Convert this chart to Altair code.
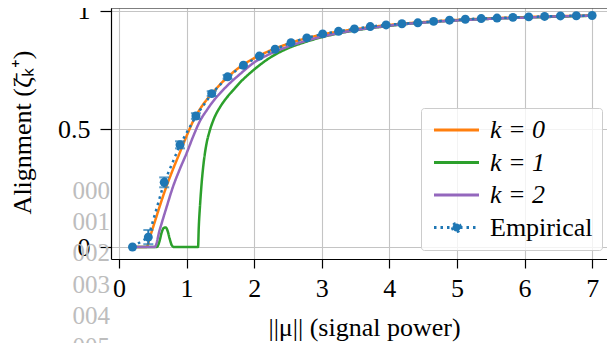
import altair as alt
import pandas as pd

# ---------------- data ----------------
emp_x = [0.2, 0.434, 0.669, 0.903, 1.138, 1.372, 1.607, 1.841, 2.076, 2.31,
         2.545, 2.779, 3.014, 3.248, 3.483, 3.717, 3.952, 4.186, 4.421, 4.655,
         4.89, 5.124, 5.359, 5.593, 5.828, 6.062, 6.297, 6.531, 6.766, 7.0]
emp_y = [0.0, 0.042, 0.274, 0.433, 0.555, 0.650, 0.721, 0.770, 0.809, 0.838,
         0.866, 0.886, 0.903, 0.914, 0.924, 0.934, 0.941, 0.946, 0.950, 0.956,
         0.961, 0.965, 0.968, 0.970, 0.973, 0.975, 0.977, 0.979, 0.980, 0.981]
emp_err = [0.0, 0.03, 0.021, 0.015, 0.012, 0.01, 0.008, 0.0, 0.0, 0.0,
           0.0, 0.0, 0.0, 0.0, 0.0, 0.0, 0.0, 0.0, 0.0, 0.0,
           0.0, 0.0, 0.0, 0.0, 0.0, 0.0, 0.0, 0.0, 0.0, 0.0]

k0_x = [0.2, 0.41, 0.45, 0.5, 0.55, 0.6, 0.7, 0.8, 0.9, 1.0, 1.1, 1.2, 1.3,
        1.4, 1.5, 1.6, 1.8, 2.0, 2.25, 2.5, 2.75, 3.0, 3.5, 4.0, 4.5, 5.0,
        5.5, 6.0, 6.5, 7.0]
k0_y = [0.0, 0.0, 0.035, 0.08, 0.125, 0.17, 0.255, 0.33, 0.4, 0.47, 0.535,
        0.585, 0.625, 0.658, 0.69, 0.718, 0.765, 0.8, 0.834, 0.861, 0.883,
        0.9, 0.923, 0.941, 0.953, 0.962, 0.969, 0.974, 0.978, 0.981]

k1_x = [0.2, 0.56, 0.6, 0.63, 0.66, 0.69, 0.72, 0.75, 0.78, 0.81, 1.17, 1.18,
        1.2, 1.22, 1.25, 1.29, 1.34, 1.4, 1.5, 1.6, 1.7, 1.8, 1.9, 2.0, 2.25,
        2.5, 2.75, 3.0, 3.5, 4.0, 4.5, 5.0, 5.5, 6.0, 6.5, 7.0]
k1_y = [0.0, 0.0, 0.025, 0.06, 0.08, 0.083, 0.068, 0.035, 0.008, 0.0, 0.0, 0.08,
        0.18, 0.26, 0.35, 0.43, 0.49, 0.54, 0.595, 0.635, 0.668, 0.7, 0.727,
        0.752, 0.805, 0.842, 0.868, 0.889, 0.918, 0.937, 0.951, 0.96, 0.967,
        0.972, 0.976, 0.98]

k2_x = [0.2, 0.53, 0.6, 0.7, 0.8, 0.9, 1.0, 1.1, 1.2, 1.3, 1.4, 1.5, 1.6, 1.8,
        2.0, 2.25, 2.5, 2.75, 3.0, 3.5, 4.0, 4.5, 5.0, 5.5, 6.0, 6.5, 7.0]
k2_y = [0.0, 0.0, 0.07, 0.165, 0.256, 0.33, 0.397, 0.47, 0.535, 0.58, 0.62,
        0.653, 0.683, 0.735, 0.782, 0.82, 0.849, 0.872, 0.891, 0.919, 0.938,
        0.951, 0.96, 0.967, 0.972, 0.977, 0.98]

series_names = ["k = 0", "k = 1", "k = 2", "Empirical"]
series_colors = ["#ff7f0e", "#2ca02c", "#9467bd", "#1f77b4"]
x_ticks = [0, 1, 2, 3, 4, 5, 6, 7]
y_ticks = [0, 0.5, 1]
line_numbers = ["000", "001", "002", "003", "004", "005"]

# ---------------- tables ----------------
theory = pd.concat([
    pd.DataFrame({"x": k0_x, "y": k0_y, "Series": series_names[0]}),
    pd.DataFrame({"x": k1_x, "y": k1_y, "Series": series_names[1]}),
    pd.DataFrame({"x": k2_x, "y": k2_y, "Series": series_names[2]}),
], ignore_index=True)
emp = pd.DataFrame({"x": emp_x, "y": emp_y, "err": emp_err, "Series": series_names[3]})
emp["lo"] = emp["y"] - emp["err"]
emp["hi"] = emp["y"] + emp["err"]
emp_bars = emp[emp["err"] > 0]

W, H = 496, 251
FONT = "Liberation Serif"
BLUE = series_colors[3]

xscale = alt.Scale(domain=[-0.118, 7.22], nice=False, zero=False)
yscale = alt.Scale(domain=[-0.0508, 1.0127], nice=False, zero=False)

# legend symbols: 45 px long strokes drawn from a small nominal symbol size
LINE_SYMBOL = "M-2.5,0L2.5,0"
EMP_SYMBOL = ("M-2.5,0L2.5,0M-0.45,0A0.45,0.45 0 1,0 0.45,0"
              "A0.45,0.45 0 1,0 -0.45,0Z")
legend = alt.Legend(
    title=None, orient="none", legendX=310, legendY=100,
    fillColor="rgba(255,255,255,0.8)", strokeColor="#cccccc", cornerRadius=3,
    padding=9, labelFont=FONT, labelFontSize=26, labelColor="black",
    labelFontStyle={"expr": "datum.value === 'Empirical' ? 'normal' : 'italic'"},
    symbolOffset=13.5, labelOffset=20.5, rowPadding=6.5,
    symbolSize=324, symbolStrokeWidth=3,
    symbolType={"expr": f"datum.value === 'Empirical' ? '{EMP_SYMBOL}' : '{LINE_SYMBOL}'"},
    symbolFillColor={"expr": "datum.value === 'Empirical' ? '#1f77b4' : 'transparent'"},
)
color = alt.Color("Series:N", scale=alt.Scale(domain=series_names, range=series_colors),
                  legend=legend)
dash = alt.StrokeDash("Series:N",
                      scale=alt.Scale(domain=series_names,
                                      range=[[1, 0], [1, 0], [1, 0], [2.5, 4]]),
                      legend=legend)

x_axis = alt.Axis(values=x_ticks, format="d", title="||μ|| (signal power)",
                  titleX=253, titleY=68, titleBaseline="middle", titleAlign="center",
                  tickSize=9, labelPadding=7)
y_axis = alt.Axis(values=y_ticks, format="~g", title="Alignment (ζ̄ₖ⁺)",
                  titleX=-89, titleY=124, titleAngle=-90, titleAlign="center",
                  titleBaseline="middle", tickSize=11, labelPadding=10)

theory_lines = alt.Chart(theory).mark_line(
    strokeWidth=2.5, strokeCap="butt", interpolate="monotone"
).encode(
    x=alt.X("x:Q", scale=xscale, axis=x_axis),
    y=alt.Y("y:Q", scale=yscale, axis=y_axis),
    color=color, strokeDash=dash,
)
emp_line = alt.Chart(emp).mark_line(strokeWidth=2.5).encode(
    x=alt.X("x:Q", scale=xscale), y=alt.Y("y:Q", scale=yscale),
    color=color, strokeDash=dash,
)
err_rule = alt.Chart(emp_bars).mark_rule(color=BLUE, strokeWidth=2).encode(
    x="x:Q", y="lo:Q", y2="hi:Q")
cap_lo = alt.Chart(emp_bars).mark_tick(color=BLUE, orient="horizontal", size=10,
                                       thickness=2).encode(x="x:Q", y="lo:Q")
cap_hi = alt.Chart(emp_bars).mark_tick(color=BLUE, orient="horizontal", size=10,
                                       thickness=2).encode(x="x:Q", y="hi:Q")
emp_pts = alt.Chart(emp).mark_point(filled=True, opacity=1, size=80, color=BLUE).encode(
    x="x:Q", y="y:Q")

top_spine = alt.Chart(emp.head(1)).mark_rule(color="black", strokeWidth=1.2).encode(
    x=alt.value(0), x2=alt.value(W), y=alt.value(0))

num_layers = []
for i, lab in enumerate(line_numbers):
    num_layers.append(
        alt.Chart(pd.DataFrame({"t": [lab]})).mark_text(
            font=FONT, fontSize=25, color="#bdbdbd", align="right", baseline="middle"
        ).encode(text="t:N", x=alt.value(-1), y=alt.value(183 + 31.2 * i))
    )

chart = alt.layer(
    theory_lines, emp_line, err_rule, cap_lo, cap_hi, emp_pts, top_spine, *num_layers
).properties(
    width=W, height=H,
    autosize=alt.AutoSizeParams(type="none"),
    padding={"left": 103, "top": 0, "right": 0, "bottom": 84},
).configure_view(stroke=None).configure_axis(
    labelFont=FONT, labelFontSize=26, labelColor="black",
    titleFont=FONT, titleFontSize=26, titleColor="black", titleFontWeight="normal",
    domainColor="black", domainWidth=1.2, tickColor="black", tickWidth=1.2,
    gridColor="#c4c4c4", gridWidth=1.1,
)

chart.save("out.html", embed_options={"renderer": "svg", "actions": False})
